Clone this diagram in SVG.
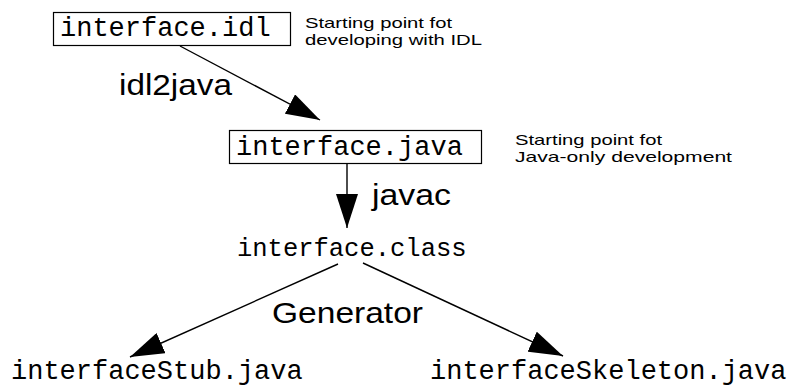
<svg xmlns="http://www.w3.org/2000/svg" width="787" height="388" viewBox="0 0 787 388">
  <style>
    .mono { font-family: "Liberation Mono", "Courier New", monospace; font-size: 27px; fill: #000; }
    .lbl { font-family: "Liberation Sans", Arial, Helvetica, sans-serif; font-size: 30px; fill: #000; }
    .note { font-family: "Liberation Sans", Arial, Helvetica, sans-serif; font-size: 14.5px; fill: #000; }
    .box { fill: #fff; stroke: #000; stroke-width: 1.2; }
    .edge { fill: none; stroke: #000; stroke-width: 1.4; }
  </style>
  <defs>
    <marker id="ah" markerWidth="34" markerHeight="22" refX="34" refY="11" orient="auto" markerUnits="userSpaceOnUse">
      <path d="M0,0 L34,11 L0,22 z" fill="#000"/>
    </marker>
  </defs>
  <rect width="787" height="388" fill="#fff"/>

  <!-- connectors -->
  <g id="connectors">
    <line class="edge" x1="180" y1="46" x2="320" y2="120" marker-end="url(#ah)"/>
    <line class="edge" x1="347" y1="163" x2="347" y2="228" marker-end="url(#ah)"/>
    <line class="edge" x1="338" y1="264" x2="130" y2="357" marker-end="url(#ah)"/>
    <line class="edge" x1="363" y1="263" x2="563" y2="356" marker-end="url(#ah)"/>
    <text class="lbl" x="119" y="95" textLength="113" lengthAdjust="spacingAndGlyphs">idl2java</text>
    <text class="lbl" x="372" y="205" textLength="79" lengthAdjust="spacingAndGlyphs">javac</text>
    <text class="lbl" x="272" y="323" textLength="151" lengthAdjust="spacingAndGlyphs">Generator</text>
  </g>

  <!-- interface.idl -->
  <g id="idl">
    <rect class="box" x="53.5" y="12.5" width="237" height="33"/>
    <text class="mono" x="60" y="36">interface.idl</text>
    <text class="note" x="305" y="28" textLength="147" lengthAdjust="spacingAndGlyphs">Starting point fot</text>
    <text class="note" x="305" y="45" textLength="177" lengthAdjust="spacingAndGlyphs">developing with IDL</text>
  </g>

  <!-- interface.java -->
  <g id="java">
    <rect class="box" x="229.5" y="130.5" width="252" height="33"/>
    <text class="mono" x="236" y="155">interface.java</text>
    <text class="note" x="515" y="145" textLength="147" lengthAdjust="spacingAndGlyphs">Starting point fot</text>
    <text class="note" x="515" y="162" textLength="217" lengthAdjust="spacingAndGlyphs">Java-only development</text>
  </g>

  <!-- interface.class -->
  <g id="class">
    <text class="mono" x="237" y="256" style="font-size:25.5px">interface.class</text>
  </g>

  <!-- generated stub -->
  <g id="stub">
    <text class="mono" x="11" y="379">interfaceStub.java</text>
  </g>

  <!-- generated skeleton -->
  <g id="skeleton">
    <text class="mono" x="430" y="379">interfaceSkeleton.java</text>
  </g>
</svg>
